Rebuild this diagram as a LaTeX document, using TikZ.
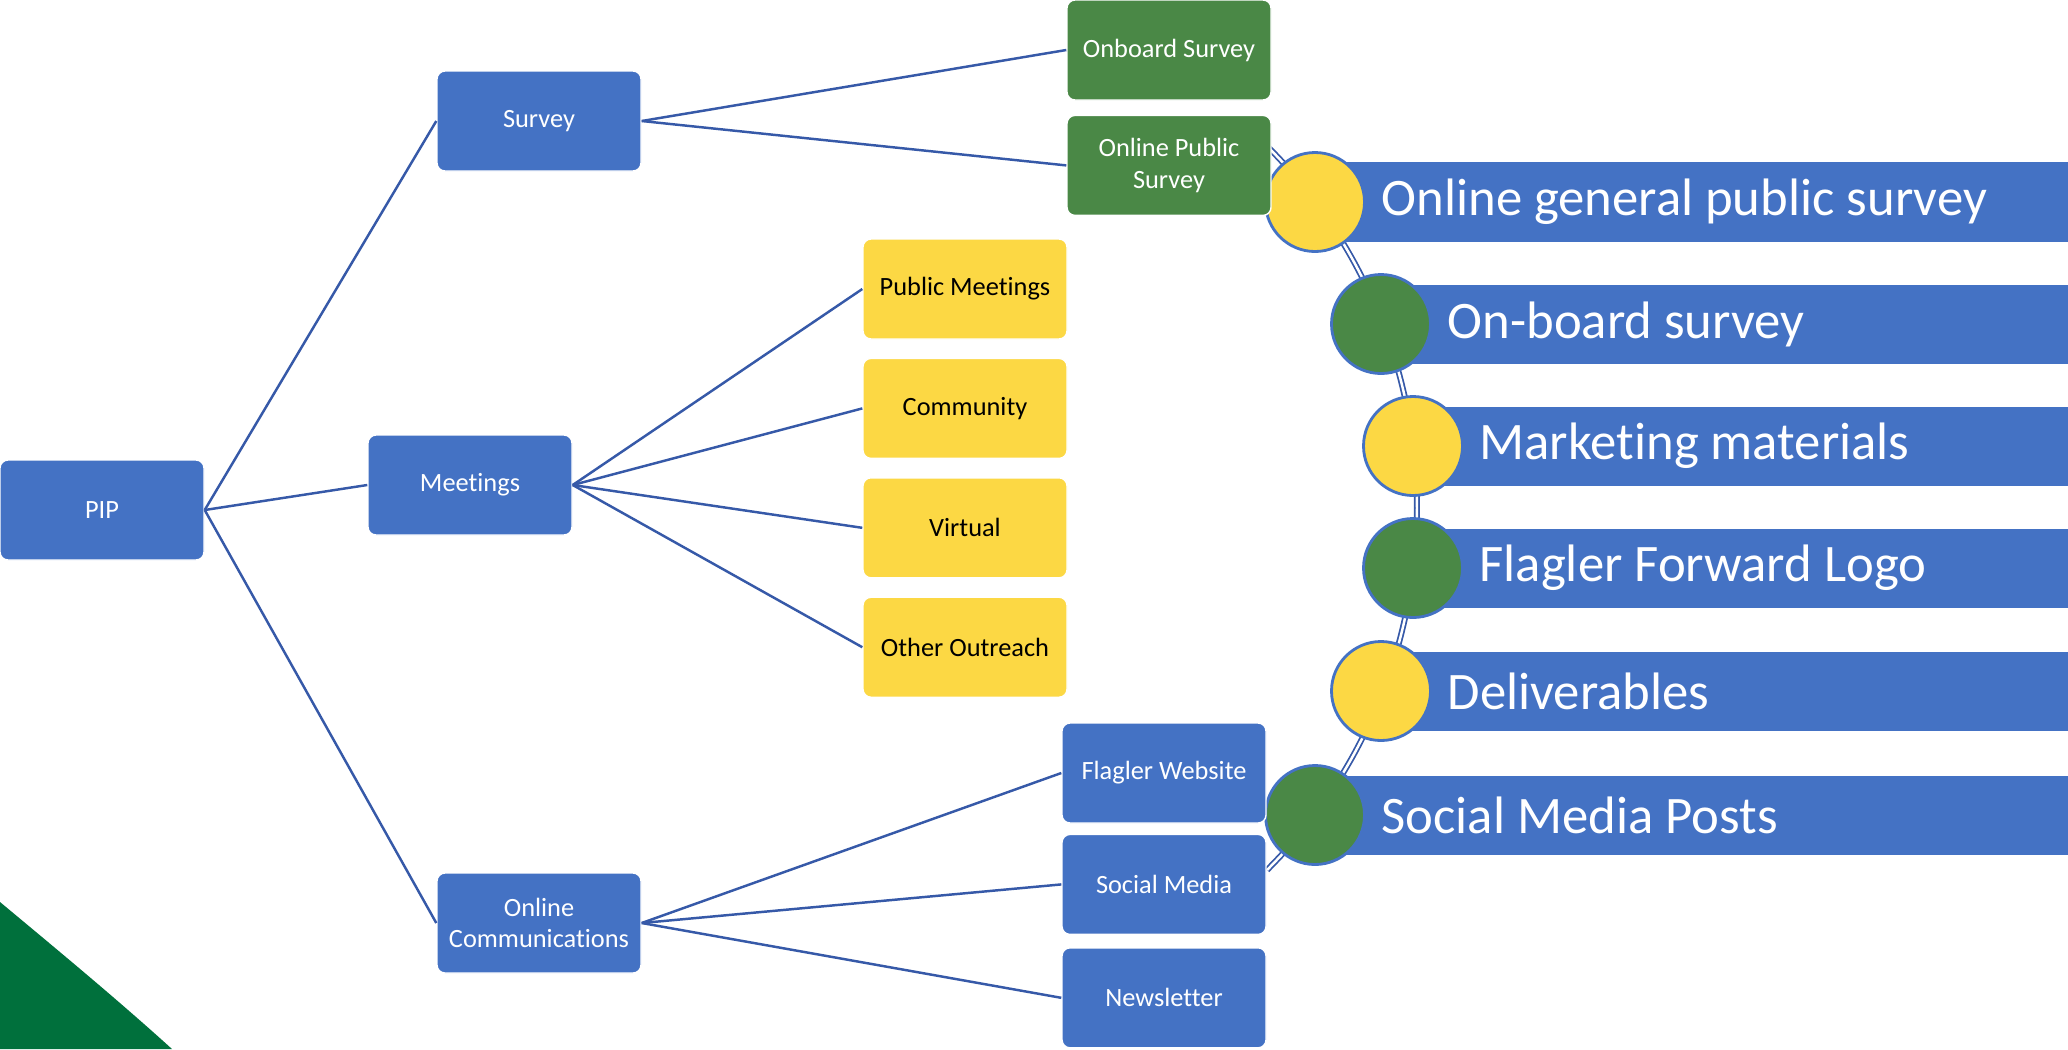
\documentclass[tikz,border=0pt]{standalone}
\usepackage{fontspec}
\setmainfont{Carlito}[Ligatures=NoCommon]
\usetikzlibrary{positioning}

\definecolor{boxblue}{HTML}{4472C4}
\definecolor{boxgreen}{HTML}{4A8846}
\definecolor{boxyellow}{HTML}{FCD844}
\definecolor{linkblue}{HTML}{3659A8}
\definecolor{cornergreen}{HTML}{00703C}

\begin{document}
\begin{tikzpicture}[
	x=0.1mm,
	y=-0.1mm,
	node distance=1.8mm,
	box/.style={
		rectangle,
		rounded corners=0.8mm,
		draw=white,
		line width=0.4pt,
		minimum width=20.4mm,
		minimum height=10mm,
		align=center,
		font=\fontsize{7.5}{9}\selectfont
	},
	bluebox/.style={box, fill=boxblue, text=white},
	greenbox/.style={box, fill=boxgreen, text=white},
	yellowbox/.style={box, fill=boxyellow, text=black},
	link/.style={draw=linkblue, line width=0.7pt},
	knob/.style={
		circle,
		draw=boxblue,
		line width=0.8pt,
		minimum size=9.9mm,
		inner sep=0pt
	},
	barfill/.style={fill=boxblue},
	bartext/.style={inner sep=0pt, text=white, font=\fontsize{15}{18}\selectfont}]

	\useasboundingbox (0,0) rectangle (2068,1049);
	\fill[white] (0,0) rectangle (2068,1049);

	% green corner
	\fill[cornergreen] (0,902) .. controls (60,952) and (118,1000) .. (172,1049) -- (0,1049) -- cycle;

	% arc behind the list
	\draw[draw=linkblue, line width=0.5pt, double=white, double distance=0.7pt]
		plot[smooth, samples=40, domain=-45:45] ({905+512*cos(\x)}, {508+512*sin(\x)});

	% bars
	\fill[barfill] (1315,162) rectangle (2068,242);
	\fill[barfill] (1381,285) rectangle (2068,364);
	\fill[barfill] (1413,407) rectangle (2068,486);
	\fill[barfill] (1413,529) rectangle (2068,608);
	\fill[barfill] (1381,652) rectangle (2068,731);
	\fill[barfill] (1315,776) rectangle (2068,855);

	\node[knob, fill=boxyellow] (k1) at (1315,202) {};
	\node[knob, fill=boxgreen] (k2) at (1381,324) {};
	\node[knob, fill=boxyellow] (k3) at (1413,446) {};
	\node[knob, fill=boxgreen] (k4) at (1413,568) {};
	\node[knob, fill=boxyellow] (k5) at (1381,691) {};
	\node[knob, fill=boxgreen] (k6) at (1315,815) {};

	\node[bartext, right=1.5mm of k1] (t1) {Online general public survey};
	\node[bartext, right=1.5mm of k2] (t2) {On-board survey};
	\node[bartext, right=1.5mm of k3] (t3) {Market\kern0pt ing materials};
	\node[bartext, right=1.5mm of k4] (t4) {Flagler Forward Logo};
	\node[bartext, right=1.5mm of k5] (t5) {Deliverables};
	\node[bartext, right=1.5mm of k6] (t6) {Social Media Posts};

	% tree
	\node[bluebox] (pip) at (102,510) {PIP};
	\node[bluebox] (survey) at (539,121) {Survey};
	\node[bluebox] (meet) at (470,485) {Meetings};
	\node[bluebox] (comm) at (539,923) {Online\\ Communicat\kern0pt ions};

	\node[greenbox] (onb) at (1169,50) {Onboard Survey};
	\node[greenbox, below=1.4mm of onb] (onl) {Online Public\\ Survey};

	\node[yellowbox] (pub) at (965,289) {Public Meetings};
	\node[yellowbox, below=of pub] (cmty) {Community};
	\node[yellowbox, below=of cmty] (virt) {Virtual};
	\node[yellowbox, below=of virt] (outr) {Other Outreach};

	\node[bluebox] (web) at (1164,773) {Flagler Website};
	\node[bluebox, below=1mm of web] (soc) {Social Media};
	\node[bluebox, below=1.2mm of soc] (news) {Newsletter};

	\draw[link] (pip.east) -- (survey.west);
	\draw[link] (pip.east) -- (meet.west);
	\draw[link] (pip.east) -- (comm.west);
	\draw[link] (survey.east) -- (onb.west);
	\draw[link] (survey.east) -- (onl.west);
	\draw[link] (meet.east) -- (pub.west);
	\draw[link] (meet.east) -- (cmty.west);
	\draw[link] (meet.east) -- (virt.west);
	\draw[link] (meet.east) -- (outr.west);
	\draw[link] (comm.east) -- (web.west);
	\draw[link] (comm.east) -- (soc.west);
	\draw[link] (comm.east) -- (news.west);
\end{tikzpicture}
\end{document}
